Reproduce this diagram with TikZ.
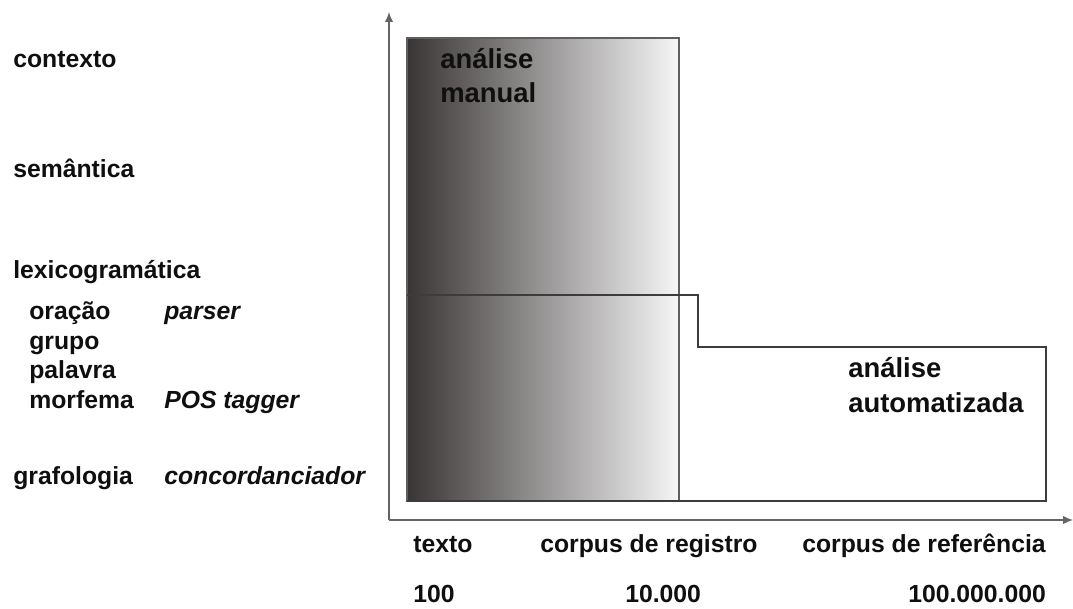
\documentclass[tikz,border=0pt]{standalone}
\usepackage{fontspec}
\setmainfont{Liberation Sans}
\usetikzlibrary{arrows.meta}
\definecolor{shadedark}{RGB}{58,53,53}
\definecolor{shadelight}{RGB}{246,246,246}
\definecolor{axisgray}{RGB}{100,100,100}
\definecolor{boxgray}{RGB}{95,95,95}
\definecolor{stepgray}{RGB}{60,60,60}
\definecolor{txt}{RGB}{15,15,15}

\begin{document}
\begin{tikzpicture}[x=0.025cm,y=-0.025cm,
    lbl/.style={anchor=base west,inner sep=0pt,text=txt,font=\fontsize{17.6}{21}\selectfont\bfseries},
    tool/.style={lbl,font=\fontsize{17.6}{21}\selectfont\bfseries\itshape},
    area/.style={lbl,font=\fontsize{19.5}{23}\selectfont\bfseries},
    axis/.style={draw=axisgray,line width=1.1pt,-{Latex[length=7pt,width=6pt]}}]

  \useasboundingbox (0,0) rectangle (1073,608);

  % axes
  \coordinate (O) at (389,520);
  \coordinate (ytip) at (389,12);
  \coordinate (xtip) at (1073,520);
  \draw[axis] (O) -- (ytip);
  \draw[axis] (O) -- (xtip);

  % manual analysis area
  \shade[left color=shadedark,right color=shadelight] (407,38) rectangle (679,501);
  \draw[boxgray,line width=1pt] (407,38) rectangle (679,501);

  % automated analysis area
  \draw[stepgray,line width=1.1pt] (407,295) -- (698,295) -- (698,347)
    -- (1046,347) -- (1046,501) -- (407,501);

  \node[area] (am1) at (440,68)  {análise};
  \node[area] (am2) at (440,102) {manual};
  \node[area] (aa1) at (848,377) {análise};
  \node[area] (aa2) at (848,412) {automatizada};

  % strata
  \node[lbl] (contexto) at (13,67)  {contexto};
  \node[lbl] (semantica) at (13,177) {semântica};
  \node[lbl] (lexico) at (13,278) {lexicogramática};
  \node[lbl] (oracao) at (29,319) {oração};
  \node[lbl] (grupo) at (29,349) {grupo};
  \node[lbl] (palavra) at (29,378) {palavra};
  \node[lbl] (morfema) at (29,408) {morfema};
  \node[lbl] (grafo) at (13,484) {grafologia};

  % tools
  \node[tool] (parser) at (164,319) {parser};
  \node[tool] (tagger) at (164,408) {POS tagger};
  \node[tool] (concord) at (164,484) {concordanciador};

  % corpus size
  \node[lbl] (texto) at (413,552) {texto};
  \node[lbl] (registro) at (540,552) {corpus de registro};
  \node[lbl] (referencia) at (802,552) {corpus de referência};
  \node[lbl] (n100) at (413,602) {100};
  \node[lbl] (n10k) at (625,602) {10.000};
  \node[lbl] (n100m) at (908,602) {100.000.000};
\end{tikzpicture}
\end{document}
